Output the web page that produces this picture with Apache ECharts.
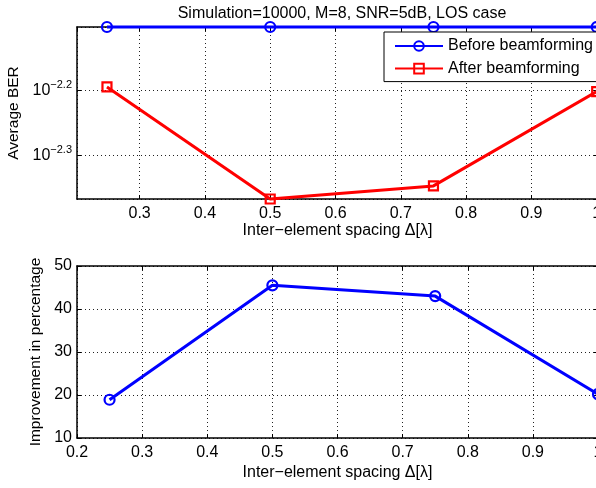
<!DOCTYPE html>
<html><head><meta charset="utf-8">
<script src="https://cdn.jsdelivr.net/npm/echarts@6/dist/echarts.min.js"></script>
<style>html,body{margin:0;padding:0;background:#fff}#c{width:596px;height:488px}</style>
</head><body><div id="c"></div>
<script>
// ---- data ----
const spacing = [0.25, 0.5, 0.75, 1.0];
const berBefore = [0.007893, 0.007893, 0.007893, 0.007893];
const berAfter = [0.006385, 0.004295, 0.004499, 0.006281];
const improvement = [18.9, 45.5, 43.0, 20.2];
const seriesNames = ['Before beamforming', 'After beamforming'];
const titleText = 'Simulation=10000, M=8, SNR=5dB, LOS case';
const xName = 'Inter\u2212element spacing \u0394[\u03bb]';
const yNameTop = 'Average BER';
const yNameBottom = 'Improvement in percentage';

// ---- chart ----
const FONT = '"Liberation Sans", Arial, Helvetica, sans-serif';
const BLUE = '#0000ff', RED = '#ff0000';
const log10 = Math.log10;
const yTopMin = log10(Math.min(...berAfter));
const yTopMax = log10(Math.max(...berBefore));
const xTopMin = 0.2041, xTopMax = 1.002;

const gridLine = {show: true, lineStyle: {color: '#222', width: 1, type: [1, 3]}};
const axisLine = {show: true, onZero: false, lineStyle: {color: '#000', width: 1.5}};
const tick = {show: true, inside: true, length: 4, lineStyle: {color: '#000', width: 1}};
const lbl = {color: '#000', fontSize: 16, fontFamily: FONT};
const ylbl = {color: '#000', fontSize: 15.5, fontFamily: FONT};

function mirrorX(grid, min, max, extra) {
  return Object.assign({type: 'value', gridIndex: grid, position: 'top', min, max,
    axisLine, axisTick: tick, axisLabel: {show: false}, splitLine: {show: false}}, extra);
}
function mirrorY(grid, min, max, extra) {
  return Object.assign({type: 'value', gridIndex: grid, position: 'right', min, max,
    axisLine, axisTick: tick, axisLabel: {show: false}, splitLine: {show: false}}, extra);
}

const chart = echarts.init(document.getElementById('c'));
chart.setOption({
  animation: false,
  backgroundColor: '#fff',
  title: {text: titleText, left: 337, top: 1, textAlign: 'center',
    textStyle: {fontSize: 16, fontWeight: 'normal', color: '#000', fontFamily: FONT}},
  legend: {
    left: 384, top: 32, orient: 'vertical', itemGap: 6.6, itemWidth: 48, itemHeight: 12,
    padding: [6, 10, 5, 10], backgroundColor: '#fff', borderColor: '#000', borderWidth: 1, borderRadius: 0,
    textStyle: {fontSize: 16, color: '#000', fontFamily: FONT, lineHeight: 16},
    data: seriesNames
  },
  grid: [
    {left: 77, top: 27, width: 521, height: 172, containLabel: false, outerBoundsMode: 'none'},
    {left: 77, top: 266, width: 521, height: 172, containLabel: false, outerBoundsMode: 'none'}
  ],
  xAxis: [
    {type: 'value', gridIndex: 0, min: xTopMin, max: xTopMax, splitNumber: 8,
      axisLine, axisTick: tick, splitLine: gridLine,
      axisLabel: Object.assign({margin: 7, showMinLabel: false, showMaxLabel: false}, lbl),
      name: xName, nameLocation: 'middle', nameGap: 24, nameTextStyle: lbl},
    {type: 'value', gridIndex: 1, min: 0.2, max: 1, interval: 0.1,
      axisLine, axisTick: tick, splitLine: gridLine,
      axisLabel: Object.assign({margin: 7}, lbl),
      name: xName, nameLocation: 'middle', nameGap: 27, nameTextStyle: lbl},
    mirrorX(0, xTopMin, xTopMax, {splitNumber: 8}),
    mirrorX(1, 0.2, 1, {interval: 0.1})
  ],
  yAxis: [
    {type: 'value', gridIndex: 0, min: yTopMin, max: yTopMax, splitNumber: 2,
      axisLine, axisTick: tick, splitLine: gridLine,
      axisLabel: {margin: 5, showMinLabel: false, showMaxLabel: false,
        formatter: v => '{b|10}{s|\u2212' + Math.abs(v).toFixed(1) + '}',
        rich: {b: {fontSize: 16, fontFamily: FONT, color: '#000'},
               s: {fontSize: 11, fontFamily: FONT, color: '#000', padding: [0, 0, 11, 0]}}},
      name: yNameTop, nameLocation: 'middle', nameGap: 48, nameTextStyle: ylbl},
    {type: 'value', gridIndex: 1, min: 10, max: 50, interval: 10,
      axisLine, axisTick: tick, splitLine: gridLine,
      axisLabel: Object.assign({margin: 5}, lbl),
      name: yNameBottom, nameLocation: 'middle', nameGap: 27, nameTextStyle: ylbl},
    mirrorY(0, yTopMin, yTopMax, {splitNumber: 2}),
    mirrorY(1, 10, 50, {interval: 10})
  ],
  series: [
    {name: seriesNames[0], type: 'line', xAxisIndex: 0, yAxisIndex: 0, clip: false,
      data: spacing.map((x, i) => [x, log10(berBefore[i])]),
      symbol: 'circle', symbolSize: 10,
      lineStyle: {color: BLUE, width: 3},
      itemStyle: {color: 'rgba(0,0,0,0)', borderColor: BLUE, borderWidth: 2.2}, z: 3},
    {name: seriesNames[1], type: 'line', xAxisIndex: 0, yAxisIndex: 0, clip: false,
      data: spacing.map((x, i) => [x, log10(berAfter[i])]),
      symbol: 'rect', symbolSize: 9,
      lineStyle: {color: RED, width: 3},
      itemStyle: {color: 'rgba(0,0,0,0)', borderColor: RED, borderWidth: 2.2}, z: 3},
    {name: 'Improvement', type: 'line', xAxisIndex: 1, yAxisIndex: 1, clip: false,
      data: spacing.map((x, i) => [x, improvement[i]]),
      symbol: 'circle', symbolSize: 10,
      lineStyle: {color: BLUE, width: 3},
      itemStyle: {color: 'rgba(0,0,0,0)', borderColor: BLUE, borderWidth: 2.2}, z: 3}
  ]
});
</script></body></html>
